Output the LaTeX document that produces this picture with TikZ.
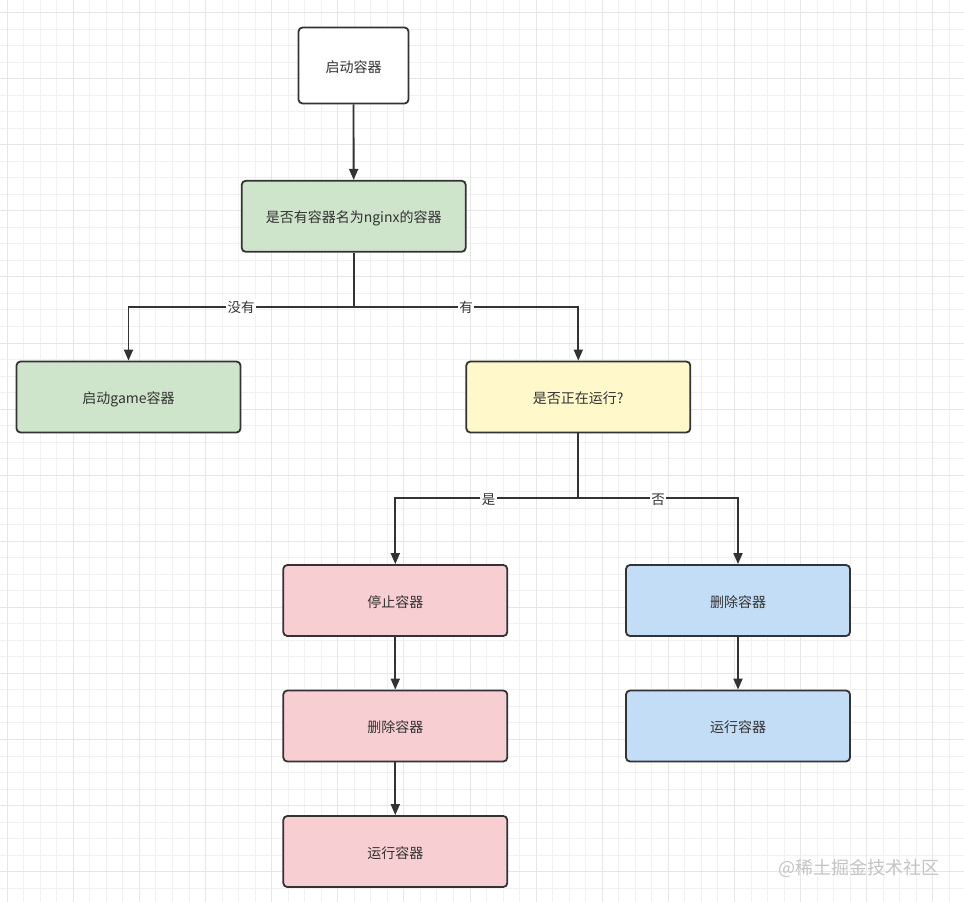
\documentclass[tikz,border=0pt]{standalone}
\usepackage{fontspec}
\setmainfont{Noto Sans CJK SC}
\usetikzlibrary{arrows.meta,positioning}
\definecolor{ink}{HTML}{333333}
\definecolor{gminor}{HTML}{F1F1F1}
\definecolor{gmajor}{HTML}{E6E6E6}
\definecolor{cgreen}{HTML}{CFE5CB}
\definecolor{cyellow}{HTML}{FFF8CA}
\definecolor{cpink}{HTML}{F7CED2}
\definecolor{cblue}{HTML}{C4DDF6}
\definecolor{wmark}{HTML}{C4C4C4}
\tikzset{
  box/.style={draw=ink, line width=1.8pt, rounded corners=4pt, minimum width=224pt, minimum height=71pt, inner sep=0pt, text=ink, text height=13pt, text depth=0pt, font=\fontsize{14pt}{16pt}\selectfont},
  arr/.style={draw=ink, line width=1.8pt, -{Triangle[length=11pt,width=9pt]}},
  lbl/.style={fill=white, inner sep=1.5pt, text=ink, text height=12pt, text depth=0.5pt, font=\fontsize{13.5pt}{15pt}\selectfont},
}
\begin{document}
\begin{tikzpicture}[x=1pt,y=-1pt]
\useasboundingbox (0,0) rectangle (964,902);
\fill[white] (0,0) rectangle (964,902);
% grid
\foreach \i in {0,...,58} {\draw[gminor, line width=1pt] ({7.2+16.53*\i},0) -- ({7.2+16.53*\i},902);}
\foreach \j in {0,...,54} {\draw[gminor, line width=1pt] (0,{12.6+16.52*\j}) -- (964,{12.6+16.52*\j});}
\foreach \i in {0,...,14} {\draw[gmajor, line width=1pt] ({7.2+66.12*\i},0) -- ({7.2+66.12*\i},902);}
\foreach \j in {0,...,13} {\draw[gmajor, line width=1pt] (0,{12.6+66.08*\j}) -- (964,{12.6+66.08*\j});}

% nodes
\node[box, fill=white, minimum width=110pt, minimum height=76pt] (start) at (353.5,65.5) {启动容器};
\node[box, fill=cgreen] (q1) at (353.7,216.3) {是否有容器名为nginx的容器};
\node[box, fill=cgreen] (game) at (128.5,397) {启动game容器};
\node[box, fill=cyellow] (q2) at (578.3,397) {是否正在运行?};
\node[box, fill=cpink] (stop) at (395.3,600.5) {停止容器};
\node[box, fill=cblue] (delR) at (738,600.5) {删除容器};
\node[box, fill=cpink] (delL) at (395.3,726) {删除容器};
\node[box, fill=cblue] (runR) at (738,726) {运行容器};
\node[box, fill=cpink] (runL) at (395.3,851.5) {运行容器};

\coordinate (s1) at (353.7,306.7);
\coordinate (s2) at (578.3,498.3);

% connectors
\draw[arr] (start) -- (q1);
\draw[draw=ink, line width=1.8pt] (q1.south) -- (s1);
\draw[arr] (s1) -| node[lbl, pos=0.25] {没有} (game.north);
\draw[arr] (s1) -| node[lbl, pos=0.25] {有} (q2.north);
\draw[draw=ink, line width=1.8pt] (q2.south) -- (s2);
\draw[arr] (s2) -| node[lbl, pos=0.245] {是} (stop.north);
\draw[arr] (s2) -| node[lbl, pos=0.25] {否} (delR.north);
\draw[arr] (stop) -- (delL);
\draw[arr] (delL) -- (runL);
\draw[arr] (delR) -- (runR);

% watermark
\node[text=wmark, font=\fontsize{18pt}{20pt}\selectfont, inner sep=0pt] (wm) at (859,868) {@稀土掘金技术社区};
\end{tikzpicture}
\end{document}
